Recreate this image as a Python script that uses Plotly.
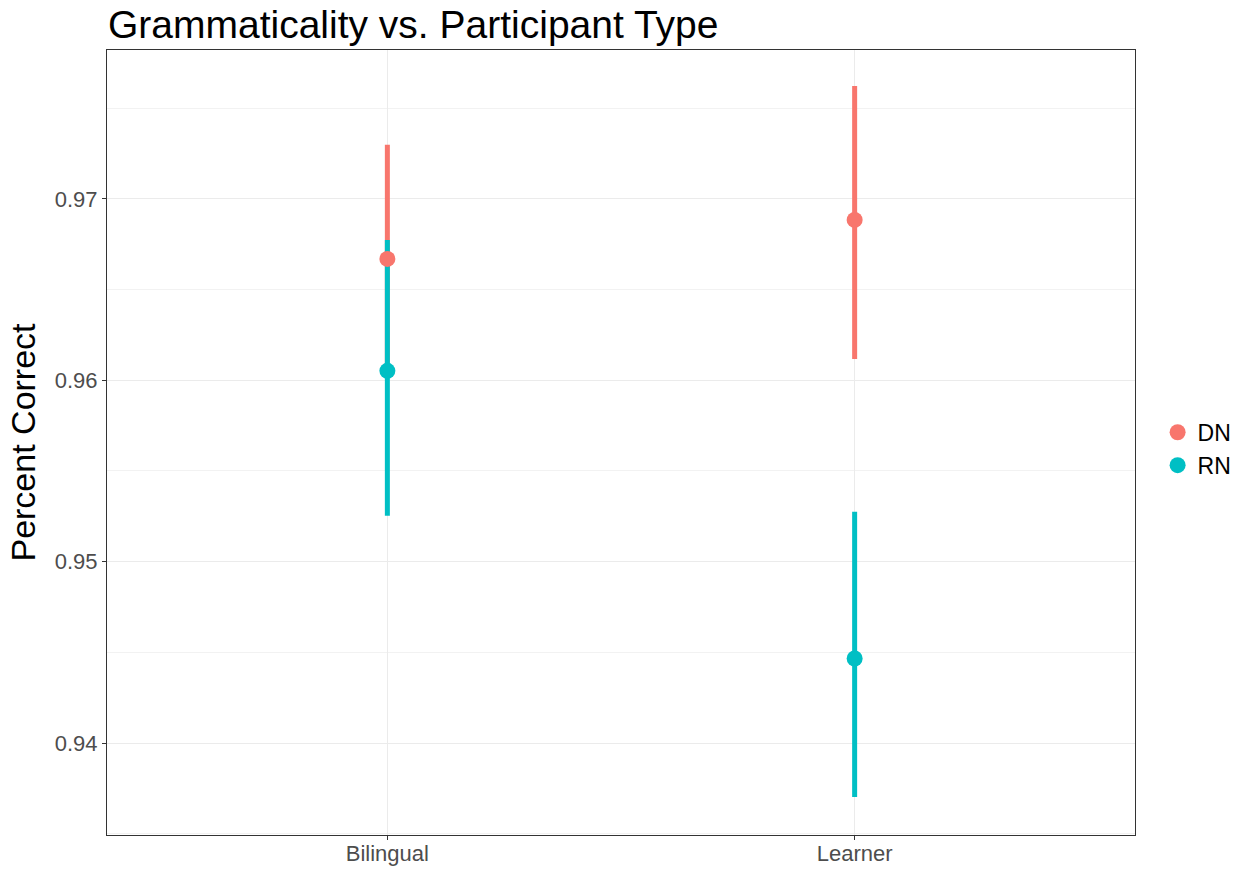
import plotly.graph_objects as go

categories = ["Bilingual", "Learner"]
series_names = ["DN", "RN"]
means = {"DN": [0.96669, 0.96884], "RN": [0.96052, 0.94466]}
upper = {"DN": [0.97298, 0.97623], "RN": [0.96774, 0.95275]}
lower = {"DN": [0.96040, 0.96118], "RN": [0.95253, 0.93702]}
colors = {"DN": "#F8766D", "RN": "#00BFC4"}
y_ticks = [0.94, 0.95, 0.96, 0.97]

FONT = "Liberation Sans, Arial, sans-serif"

fig = go.Figure()

# ranges first (all lines), then points, like ggplot pointrange
for s in series_names:
    fig.add_trace(go.Scatter(
        x=categories, y=means[s], mode="markers",
        marker=dict(size=1, color="rgba(0,0,0,0)"),
        error_y=dict(type="data", symmetric=False,
                     array=[u - m for u, m in zip(upper[s], means[s])],
                     arrayminus=[m - l for m, l in zip(means[s], lower[s])],
                     width=0, thickness=5, color=colors[s]),
        showlegend=False, hoverinfo="skip"))
for s in series_names:
    fig.add_trace(go.Scatter(
        x=categories, y=means[s], mode="markers", name=s,
        marker=dict(size=16, color=colors[s]),
        showlegend=True))

fig.update_layout(
    width=1240, height=869,
    margin=dict(l=107, r=105, t=50, b=34, autoexpand=False),
    paper_bgcolor="white", plot_bgcolor="white",
    title=dict(text="Grammaticality vs. Participant Type", x=108/1240, xanchor="left",
               y=1 - 24/869, yanchor="middle",
               font=dict(family=FONT, size=39, color="black")),
    legend=dict(x=1.022, xanchor="left", y=0.492, yanchor="middle",
                font=dict(family=FONT, size=23, color="black"),
                itemsizing="trace", tracegroupgap=0),
    showlegend=True,
)
fig.update_xaxes(
    type="category", range=[-0.6, 1.6], automargin=False,
    showgrid=True, gridcolor="#ebebeb", gridwidth=1,
    showline=True, mirror=True, linecolor="#333333", linewidth=1,
    ticks="outside", ticklen=4, tickcolor="#333333",
    tickfont=dict(family=FONT, size=22, color="#4d4d4d"),
    ticklabelstandoff=-5,
    zeroline=False,
)
fig.update_yaxes(
    range=[0.93493, 0.97821], automargin=False,
    tickvals=y_ticks, ticktext=[f"{v:.2f}" for v in y_ticks],
    showgrid=True, gridcolor="#ebebeb", gridwidth=1,
    minor=dict(tickvals=[0.935, 0.945, 0.955, 0.965, 0.975], showgrid=True,
               gridcolor="#f2f2f2", gridwidth=1, ticks=""),
    showline=True, mirror=True, linecolor="#333333", linewidth=1,
    ticks="outside", ticklen=4, tickcolor="#333333",
    tickfont=dict(family=FONT, size=22, color="#4d4d4d"),
    title=dict(text="Percent Correct", font=dict(family=FONT, size=34, color="black"), standoff=8),
    zeroline=False,
)

fig.write_html("out.html")
